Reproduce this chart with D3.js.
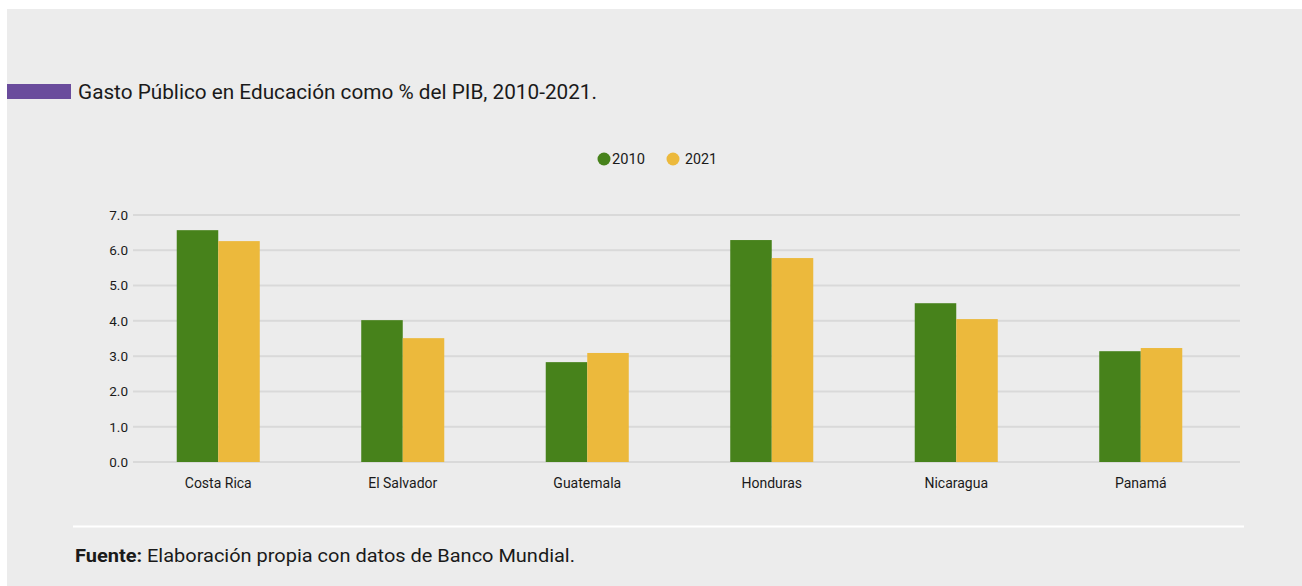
<!DOCTYPE html>
<html><head><meta charset="utf-8">
<script src="https://cdn.jsdelivr.net/npm/d3@7"></script>
<style>
html,body{margin:0;padding:0;background:#fff;}
svg{display:block;}
text{font-family:"Roboto","DejaVu Sans",sans-serif;fill:#1a1a1a;}
</style></head><body>
<svg id="chart" width="1302" height="586"></svg>
<script>
const categories = ["Costa Rica","El Salvador","Guatemala","Honduras","Nicaragua","Panamá"];
const seriesNames = ["2010","2021"];
const values2010 = [6.57, 4.02, 2.83, 6.29, 4.50, 3.14];
const values2021 = [6.26, 3.51, 3.09, 5.78, 4.05, 3.23];
const yTicks = [0,1,2,3,4,5,6,7];
const colors = ["#47821b","#ecb93c"];
const title = "Gasto Público en Educación como % del PIB, 2010-2021.";

const svg = d3.select("#chart");
svg.append("rect").attr("x",7).attr("y",9).attr("width",1295).attr("height",577).attr("fill","#ececec");

// title
svg.append("rect").attr("x",7).attr("y",84).attr("width",64).attr("height",15).attr("fill","#6a4c9c");
svg.append("text").attr("x",78).attr("y",98.5).attr("font-size",20).text(title)
  .attr("textLength",519).attr("lengthAdjust","spacingAndGlyphs");

// legend
const legend = [{name:seriesNames[0],cx:604,tx:612,tl:33},{name:seriesNames[1],cx:673,tx:685,tl:32}];
legend.forEach((l,i)=>{
  svg.append("circle").attr("cx",l.cx).attr("cy",159).attr("r",6.5).attr("fill",colors[i]);
  svg.append("text").attr("x",l.tx).attr("y",164).attr("font-size",14).text(l.name)
    .attr("textLength",l.tl).attr("lengthAdjust","spacingAndGlyphs");
});

const x0 = d3.scaleBand().domain(categories).range([126,1233]).paddingInner(0.55).paddingOuter(0.275);
const x1 = d3.scaleBand().domain(seriesNames).range([0,x0.bandwidth()]);
const y = d3.scaleLinear().domain([0,7]).range([462,215]);

// gridlines
svg.append("g").selectAll("line").data(yTicks).join("line")
  .attr("x1",133).attr("x2",1240).attr("y1",d=>y(d)).attr("y2",d=>y(d))
  .attr("stroke","#d9d9d9").attr("stroke-width",2);

// y axis labels
const yAxis = d3.axisLeft(y).tickValues(yTicks).tickFormat(d3.format(".1f")).tickSize(0).tickPadding(0);
const yg = svg.append("g").attr("transform","translate(128,0)").call(yAxis);
yg.select(".domain").remove();
yg.selectAll("text").attr("font-size",13.5).attr("fill","#1a1a1a").style("font-family","Roboto").attr("dy","0.32em");

// bars
const data = categories.map((c,i)=>({c, vals:[values2010[i],values2021[i]]}));
const g = svg.append("g");
data.forEach(d=>{
  d.vals.forEach((v,j)=>{
    g.append("rect")
      .attr("x",x0(d.c)+x1(seriesNames[j]))
      .attr("width",x1.bandwidth())
      .attr("y",y(v))
      .attr("height",y(0)-y(v))
      .attr("fill",colors[j]);
  });
});

// x axis labels
const xAxis = d3.axisBottom(x0).tickSize(0).tickPadding(0);
const xg = svg.append("g").attr("transform","translate(0,478)").call(xAxis);
xg.select(".domain").remove();
xg.selectAll("text").attr("font-size",14).attr("fill","#1a1a1a").style("font-family","Roboto").attr("dy","0.71em");

// footer
svg.append("line").attr("x1",73).attr("x2",1244).attr("y1",526.5).attr("y2",526.5).attr("stroke","#ffffff").attr("stroke-width",2);
const ft = svg.append("text").attr("x",75).attr("y",562).attr("font-size",18)
  .attr("textLength",500).attr("lengthAdjust","spacingAndGlyphs");
ft.append("tspan").attr("font-weight","bold").text("Fuente:");
ft.append("tspan").text(" Elaboración propia con datos de Banco Mundial.");
</script>
</body></html>
